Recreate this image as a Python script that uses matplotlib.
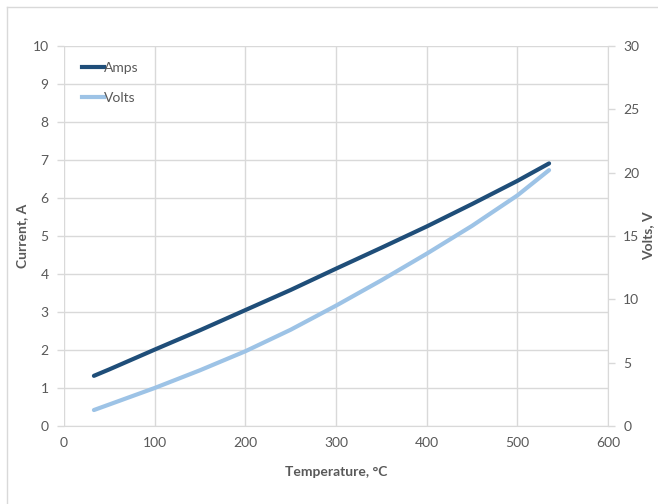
import matplotlib
matplotlib.use("Agg")
import matplotlib.pyplot as plt
from matplotlib.lines import Line2D

temperature = [33, 50, 100, 150, 200, 250, 300, 350, 400, 450, 500, 535]
amps = [1.32, 1.49, 2.01, 2.52, 3.05, 3.58, 4.14, 4.69, 5.25, 5.84, 6.45, 6.91]
volts = [1.26, 1.70, 3.0, 4.4, 5.9, 7.6, 9.5, 11.5, 13.6, 15.8, 18.2, 20.2]

x_ticks = [0, 100, 200, 300, 400, 500, 600]
left_ticks = list(range(0, 11))
right_ticks = [0, 5, 10, 15, 20, 25, 30]

plt.rcParams['font.family'] = ['Lato', 'DejaVu Sans']
tick_color = '#595959'
grid_color = '#d9d9d9'
amps_color = '#1f4e79'
volts_color = '#9dc3e6'

fig = plt.figure(figsize=(6.58, 5.04), dpi=100)
W, H = 658, 504
ax = fig.add_axes([64 / W, 1 - 426 / H, (608 - 64) / W, (426 - 46) / H])
ax2 = ax.twinx()

ax.plot(temperature, amps, color=amps_color, lw=3, solid_capstyle='round', zorder=3)
ax2.plot(temperature, volts, color=volts_color, lw=3, solid_capstyle='round', zorder=3)

ax.set_xlim(0, 600)
ax.set_ylim(0, 10)
ax2.set_ylim(0, 30)
ax.set_xticks(x_ticks)
ax.set_yticks(left_ticks)
ax2.set_yticks(right_ticks)

ax.grid(True, color=grid_color, lw=1)
ax.set_axisbelow(True)
for a in (ax, ax2):
    for s in a.spines.values():
        s.set_visible(False)
ax.spines['bottom'].set_visible(True)
ax.spines['bottom'].set_color(grid_color)
ax2.spines['right'].set_visible(True)
ax2.spines['right'].set_color(grid_color)

ax.tick_params(axis='x', length=0, pad=8, colors=tick_color, labelsize=10)
ax.tick_params(axis='y', length=5, width=1, color=grid_color, labelcolor=tick_color, labelsize=10, pad=6)
ax2.tick_params(axis='y', length=5, width=1, color=grid_color, labelcolor=tick_color, labelsize=10, pad=6)

ax.set_xlabel('Temperature, °C', color=tick_color, fontsize=10, fontweight='bold', labelpad=12)
ax.set_ylabel('Current, A', color=tick_color, fontsize=10, fontweight='bold', labelpad=3)
ax2.set_ylabel('Volts, V', color=tick_color, fontsize=10, fontweight='bold', labelpad=2)

handles = [Line2D([0], [0], color=amps_color, lw=3),
           Line2D([0], [0], color=volts_color, lw=3)]
leg = ax.legend(handles, ['Amps', 'Volts'], loc='upper left', bbox_to_anchor=(0.01, 0.99),
                frameon=False, handlelength=1.6, handletextpad=0.0, labelspacing=1.3,
                fontsize=10)
for t in leg.get_texts():
    t.set_color(tick_color)

# outer chart border (top and left edges visible)
fig.add_artist(Line2D([7 / W, 7 / W], [0, 1 - 7 / H], transform=fig.transFigure, color='#d9d9d9', lw=1))
fig.add_artist(Line2D([7 / W, 1], [1 - 7 / H, 1 - 7 / H], transform=fig.transFigure, color='#d9d9d9', lw=1))

fig.savefig('out.png', dpi=100)
